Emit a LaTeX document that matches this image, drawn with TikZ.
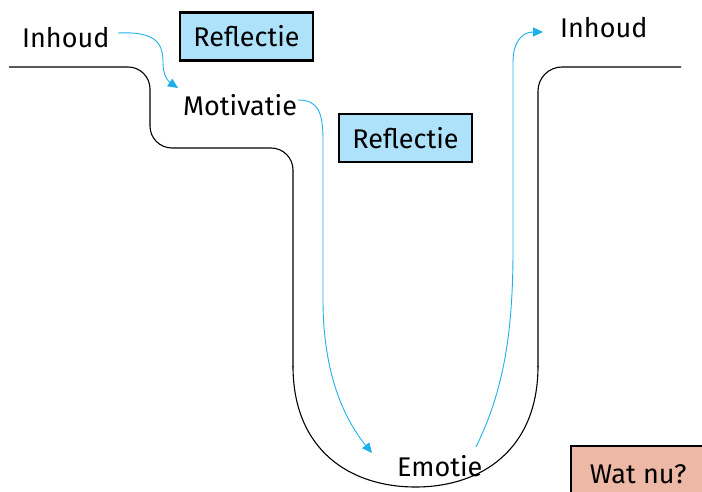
\documentclass[tikz,border=0pt]{standalone}
\usepackage{fontspec}
\setmainfont{Fira Sans}
\usetikzlibrary{arrows.meta}
\definecolor{flowblue}{RGB}{30,176,234}
\definecolor{boxblue}{RGB}{174,225,250}
\definecolor{boxsalmon}{RGB}{238,184,166}
\tikzset{
  lbl/.style={inner sep=0pt, anchor=base west, font=\fontsize{27}{30}\selectfont},
  tag/.style={draw=black, line width=2.4pt, inner sep=0pt, minimum width=133pt, minimum height=48pt, font=\fontsize{27}{30}\selectfont},
  flow/.style={draw=flowblue, line width=0.9pt, -{Triangle[length=10pt,width=9pt]}},
  pipe/.style={draw=black, line width=1.1pt}
}
\begin{document}
\begin{tikzpicture}[x=1pt,y=1pt]
\useasboundingbox (0,0) rectangle (702,-492);
% pipe outline
\draw[pipe, rounded corners=22pt] (9,-67) -- (150,-67) -- (150,-148) -- (293,-148) -- (293,-367);
\draw[pipe] (293,-366) .. controls (293,-450) and (350,-487) .. (415.5,-487) .. controls (481,-487) and (538,-450) .. (538,-366);
\draw[pipe, rounded corners=24pt] (538,-367) -- (538,-67) -- (681,-67);
% labels
\node[lbl] (inh1) at (22,-48) {Inhoud};
\node[lbl] (mot) at (183,-116) {Motivatie};
\node[lbl] (emo) at (397,-476) {Emotie};
\node[lbl] (inh2) at (560,-38) {Inhoud};
\node[tag, fill=boxblue] (refl1) at (246.5,-36.5) {Reflectie};
\node[tag, fill=boxblue] (refl2) at (405.5,-138) {Reflectie};
\node[tag, fill=boxsalmon, anchor=north west, minimum width=142pt, minimum height=56pt] (watnu) at (570,-445) {\hspace*{-8pt}Wat nu?};
% flow arrows
\coordinate (s1) at (118,-33);
\coordinate (e1) at (178,-88);
\coordinate (s2) at (298,-100);
\coordinate (e2) at (372,-453);
\coordinate (s3) at (476,-447);
\coordinate (e3) at (543,-32);
\draw[flow] (s1) .. controls (158,-31) and (163,-45) .. (163,-63) .. controls (163,-76) and (169,-82) .. (e1);
\draw[flow] (s2) .. controls (318,-100) and (323,-112) .. (323,-140) -- (323,-300) .. controls (323,-375) and (345,-420) .. (e2);
\draw[flow] (s3) .. controls (503,-392) and (513,-335) .. (513,-250) -- (513,-62) .. controls (513,-42) and (522,-32) .. (e3);
\end{tikzpicture}
\end{document}
